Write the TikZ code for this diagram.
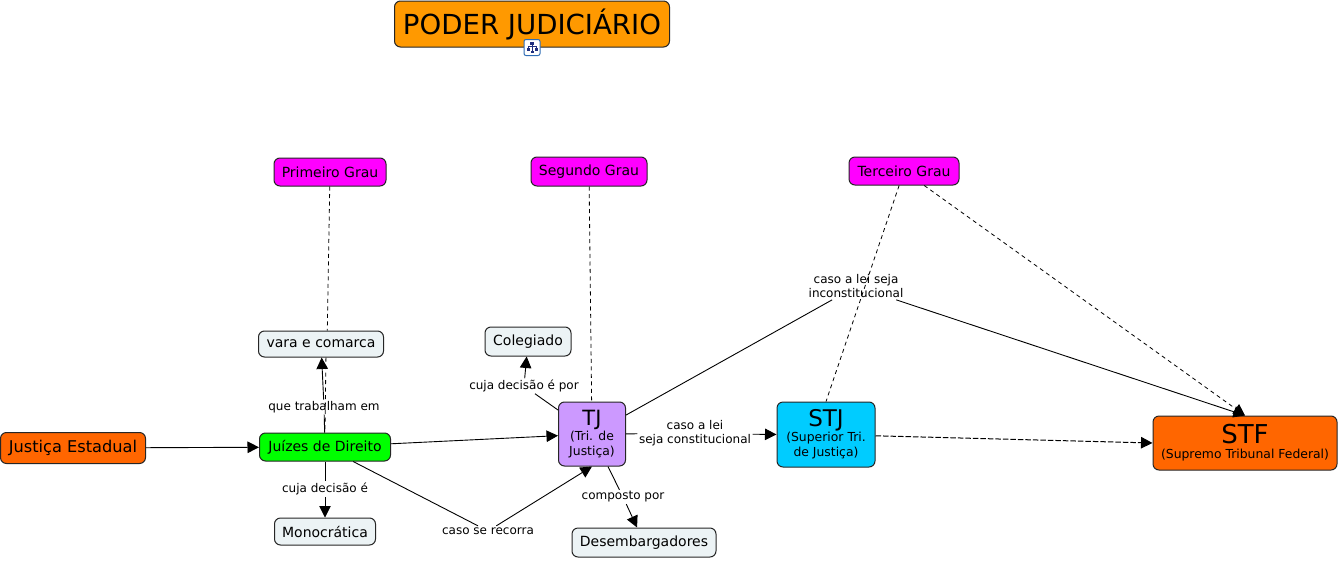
\documentclass[tikz,border=0pt]{standalone}
\usepackage{fontspec}
\setmainfont{DejaVu Sans}
\usetikzlibrary{arrows.meta}

\definecolor{titleorange}{HTML}{FF9900}
\definecolor{grau}{HTML}{FF00FF}
\definecolor{pale}{HTML}{ECF3F5}
\definecolor{court}{HTML}{FF6600}
\definecolor{judge}{HTML}{00FF00}
\definecolor{tjcolor}{HTML}{CC99FF}
\definecolor{stjcolor}{HTML}{00CCFF}
\definecolor{iconblue}{HTML}{2F6DB5}
\definecolor{iconnavy}{HTML}{1F2F7F}

\tikzset{
  box/.style={draw=black!85,line width=1pt,rounded corners=6pt,inner sep=0pt,align=center,font=\fontsize{14}{17}\selectfont},
  lbl/.style={fill=white,inner sep=1.5pt,align=center,font=\fontsize{12}{14}\selectfont},
  subbox/.style={box,font=\fontsize{12.4}{15}\selectfont},
  link/.style={line width=0.9pt},
  tolink/.style={line width=0.9pt,-{Triangle[length=11.5pt,width=11.5pt]}},
  dashlink/.style={line width=0.8pt,dash pattern=on 4pt off 3.5pt},
  todash/.style={line width=0.8pt,dash pattern=on 4pt off 3.5pt,-{Triangle[length=11.5pt,width=11.5pt]}}
}
\newcommand{\bigline}[2]{{\fontsize{#1}{#1}\selectfont #2}}

\begin{document}
\begin{tikzpicture}[x=1pt,y=-1pt]
    \useasboundingbox (0,0) rectangle (1339,560);
    % title and its icon
    \node[box,fill=titleorange,minimum width=275pt,minimum height=46pt,font=\fontsize{27.6}{30}\selectfont] (title) at (532,24) {PODER JUDICIÁRIO};
    \node[draw=iconblue,fill=white,line width=1pt,rounded corners=2pt,minimum size=16pt,inner sep=0pt] (icon) at (532,47.5) {};
    \fill[iconnavy] (530,41.5) rectangle (534,44.5);
    \fill[iconnavy] (526.5,48) rectangle (529.5,50.5);
    \fill[iconnavy] (534.5,48) rectangle (537.5,50.5);
    \fill[iconnavy] (530.5,50.5) rectangle (533.5,53);
    \draw[iconnavy,line width=0.6pt] (532,44.5) -- (532,50.5) (528,48) -- (528,46.3) -- (536,46.3) -- (536,48);
    % the three grades
    \node[box,fill=grau,minimum width=112pt,minimum height=28pt] (primeiro) at (330,172) {Primeiro Grau};
    \node[box,fill=grau,minimum width=116pt,minimum height=29pt] (segundo) at (589,171.5) {Segundo Grau};
    \node[box,fill=grau,minimum width=110pt,minimum height=28pt] (terceiro) at (904,171) {Terceiro Grau};
    % concepts
    \node[box,fill=pale,minimum width=125pt,minimum height=26pt] (vara) at (321,344) {vara e comarca};
    \node[box,fill=pale,minimum width=86pt,minimum height=29pt] (colegiado) at (528,341.5) {Colegiado};
    \node[box,fill=court,minimum width=145pt,minimum height=31pt,font=\fontsize{16.2}{18}\selectfont] (estadual) at (73,448) {Justiça Estadual};
    \node[box,fill=judge,minimum width=131pt,minimum height=28pt] (juizes) at (325,447) {Juízes de Direito};
    \node[box,fill=pale,minimum width=101pt,minimum height=27pt] (mono) at (325,531.5) {Monocrática};
    \node[box,fill=pale,minimum width=144pt,minimum height=29pt] (desemb) at (644,542.5) {Desembargadores};
    \node[subbox,fill=tjcolor,minimum width=67pt,minimum height=64pt] (tj) at (592,434) {\bigline{21}{TJ}\\(Tri. de\\Justiça)};
    \node[subbox,fill=stjcolor,minimum width=98pt,minimum height=65pt] (stj) at (826,434.5) {\bigline{23}{STJ}\\(Superior Tri.\\de Justiça)};
    \node[subbox,fill=court,minimum width=184pt,minimum height=54pt] (stf) at (1245,443) {\bigline{26}{STF}\\(Supremo Tribunal Federal)};
    % linking phrases
    \node[lbl] (trabalham) at (324,407) {que trabalham em};
    \node[lbl] (decisao) at (325,489) {cuja decisão é};
    \node[lbl] (recorra) at (488,531) {caso se recorra};
    \node[lbl] (decisaopor) at (524,386) {cuja decisão é por};
    \node[lbl] (composto) at (623,497) {composto por};
    \node[lbl] (const) at (695,433.5) {caso a lei\\seja constitucional};
    \node[lbl] (inconst) at (856,286.5) {caso a lei seja\\inconstitucional};
    % solid connectors
    \draw[tolink] (estadual) -- (juizes);
    \draw[tolink] (juizes) -- (tj);
    \draw[link] (juizes) -- (trabalham);
    \draw[tolink] (trabalham) -- (vara);
    \draw[link] (juizes) -- (decisao);
    \draw[tolink] (decisao) -- (mono);
    \draw[link] (juizes) -- (recorra);
    \draw[tolink] (recorra) -- (tj.south);
    \draw[link] (tj) -- (decisaopor);
    \draw[tolink] (decisaopor) -- (colegiado);
    \draw[link] (tj) -- (composto);
    \draw[tolink] (composto) -- (desemb);
    \draw[link] (tj) -- (const);
    \draw[tolink] (const) -- (stj.west);
    \draw[link] (tj) -- (inconst);
    \draw[tolink] (inconst) -- (stf.north);
    % dashed connectors
    \draw[dashlink] (primeiro) -- (vara.65);
    \draw[dashlink] (vara.-70) -- (juizes.north);
    \draw[dashlink] (segundo) -- (tj);
    \draw[dashlink] (terceiro) -- (stj.north);
    \draw[todash] (terceiro) -- (stf.north);
    \draw[todash,line width=1pt,dash pattern=on 5.5pt off 2pt] (stj) -- (stf.west);
\end{tikzpicture}
\end{document}
